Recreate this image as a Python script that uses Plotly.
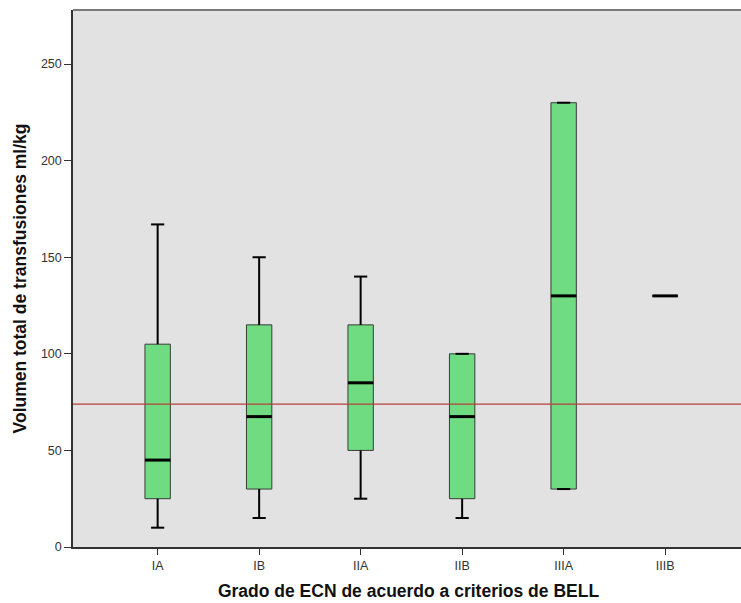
import plotly.graph_objects as go

categories = ["IA", "IB", "IIA", "IIB", "IIIA", "IIIB"]
lower_whisker = [10, 15, 25, 15, 30, 130]
q1 = [25, 30, 50, 25, 30, 130]
median = [45, 67.5, 85, 67.5, 130, 130]
q3 = [105, 115, 115, 100, 230, 130]
upper_whisker = [167, 150, 140, 100, 230, 130]
reference_value = 74

y_ticks = [0, 50, 100, 150, 200, 250]

pos = list(range(len(categories)))
box_w = 0.25
cap_half = 0.065
med_half = box_w / 2

fig = go.Figure()

# boxes (no whiskers: fences = quartiles)
fig.add_trace(go.Box(
    x=pos, q1=q1, median=median, q3=q3,
    lowerfence=q1, upperfence=q3,
    width=box_w, fillcolor="#70dc82",
    line=dict(color="#3a3a3a", width=1),
    whiskerwidth=0, boxpoints=False, hoverinfo="skip", showlegend=False,
))

# whiskers
wx, wy = [], []
for p, lo, a, b, hi in zip(pos, lower_whisker, q1, q3, upper_whisker):
    if hi > b:
        wx += [p, p, None]; wy += [b, hi, None]
    if lo < a:
        wx += [p, p, None]; wy += [lo, a, None]
    if hi != lo:
        wx += [p - cap_half, p + cap_half, None]; wy += [hi, hi, None]
        wx += [p - cap_half, p + cap_half, None]; wy += [lo, lo, None]
fig.add_trace(go.Scatter(x=wx, y=wy, mode="lines",
                         line=dict(color="black", width=2),
                         hoverinfo="skip", showlegend=False))

# medians
mx, my = [], []
for p, m in zip(pos, median):
    mx += [p - med_half, p + med_half, None]; my += [m, m, None]
fig.add_trace(go.Scatter(x=mx, y=my, mode="lines",
                         line=dict(color="black", width=3),
                         hoverinfo="skip", showlegend=False))

fig.add_hline(y=reference_value, line=dict(color="#b5403a", width=1.2))

fig.update_layout(
    width=744, height=603,
    margin=dict(l=73, r=0, t=10, b=56),
    paper_bgcolor="white", plot_bgcolor="#e2e2e2",
    font=dict(family="Liberation Sans, Arial, sans-serif", color="#333"),
    showlegend=False,
)
fig.update_xaxes(
    range=[-0.834, 5.777], tickvals=pos, ticktext=categories,
    ticks="outside", ticklen=6, tickcolor="#333", tickwidth=1,
    showgrid=False, zeroline=False,
    showline=True, linecolor="#333", linewidth=1.5, mirror=False,
    tickfont=dict(size=12.5, color="#333"),
    title=dict(text="Grado de ECN de acuerdo a criterios de BELL",
               font=dict(size=17.5, color="#111", weight="bold"), standoff=13),
)
fig.update_yaxes(
    range=[0, 278], tickvals=y_ticks,
    ticks="outside", ticklen=7, tickcolor="#333", tickwidth=1,
    showgrid=False, zeroline=False,
    showline=True, linecolor="#333", linewidth=1.5,
    tickfont=dict(size=12.5, color="#333"),
    title=dict(text="Volumen total de transfusiones ml/kg",
               font=dict(size=17.5, color="#111", weight="bold"), standoff=10),
)
# top border
fig.add_shape(type="line", xref="paper", yref="paper", x0=0, x1=1, y0=1, y1=1,
              line=dict(color="#7a7a7a", width=2))

fig.write_html("out.html", config={"displayModeBar": False},
               post_script="document.body.style.margin='0';document.body.style.overflow='hidden';")
